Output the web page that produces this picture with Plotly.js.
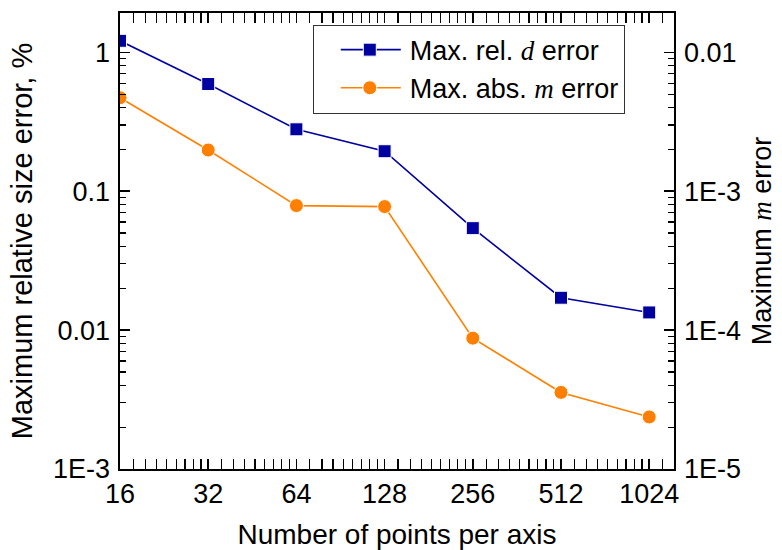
<!DOCTYPE html>
<html>
<head>
<meta charset="utf-8">
<script src="https://cdn.plot.ly/plotly-3.0.1.min.js"></script>
<style>
  html, body { margin: 0; padding: 0; background: #fff; }
  #chart { width: 782px; height: 550px; }
</style>
</head>
<body>
<div id="chart"></div>
<script>
// Grid resolution (points per axis)
const nPoints = [16, 32, 64, 128, 256, 512, 1024];
const xTickLabels = ['16', '32', '64', '128', '256', '512', '1024'];

// Maximum relative size (d) error, in percent (left axis)
const relDErrorPct = [1.21, 0.591, 0.279, 0.194, 0.0542, 0.0171, 0.0134];

// Maximum absolute m error (right axis)
const absMError = [4.71e-3, 1.98e-3, 7.88e-4, 7.75e-4, 8.75e-5, 3.56e-5, 2.37e-5];

// Axis tick labels
const yLeftTickVals = [0.001, 0.01, 0.1, 1];
const yLeftTickText = ['1E-3', '0.01', '0.1', '1'];
const yRightTickVals = [1e-5, 1e-4, 1e-3, 0.01];
const yRightTickText = ['1E-5', '1E-4', '1E-3', '0.01'];

const FONT = 'Liberation Sans, Arial, sans-serif';
const SERIF = 'Liberation Serif';
const BLUE = '#0000A0';
const ORANGE = '#FF8000';

// Minor ticks: x axis splits each octave into 9 equal linear steps,
// y axes use the usual 2..9 per decade.
const xMinor = [];
nPoints.forEach(b => { for (let k = 1; k <= 8; k++) xMinor.push(b * (1 + k / 9)); });
function decadeMinor(e0, e1) {
  const out = [];
  for (let e = e0; e <= e1; e++) for (let d = 2; d <= 9; d++) out.push(d * Math.pow(10, e));
  return out;
}

const traces = [
  {
    x: nPoints, y: relDErrorPct, yaxis: 'y',
    name: 'Max. rel. <i><span style="font-family:' + SERIF + '">d</span></i> error',
    mode: 'lines+markers',
    line: { color: BLUE, width: 1.6 },
    marker: { symbol: 'square', size: 13, color: BLUE, line: { color: '#ffffff', width: 1 } }
  },
  {
    x: nPoints, y: absMError, yaxis: 'y2',
    name: 'Max. abs. <i><span style="font-family:' + SERIF + '">m</span></i> error',
    mode: 'lines+markers',
    line: { color: ORANGE, width: 1.6 },
    marker: { symbol: 'circle', size: 14, color: ORANGE, line: { color: '#ffffff', width: 1 } }
  }
];

const axisCommon = {
  type: 'log',
  showgrid: false,
  zeroline: false,
  showline: true,
  linecolor: '#000',
  linewidth: 1.6,
  ticks: 'inside',
  ticklen: 10,
  tickwidth: 1.6,
  tickcolor: '#000',
  tickfont: { family: FONT, size: 27, color: '#000' },
  automargin: false
};

const layout = {
  width: 782,
  height: 550,
  paper_bgcolor: '#fff',
  plot_bgcolor: '#fff',
  margin: { l: 120, r: 108, t: 13, b: 81 },
  font: { family: FONT, size: 27, color: '#000' },
  showlegend: true,
  legend: {
    x: 0.348, y: 0.877, xanchor: 'left', yanchor: 'middle',
    bgcolor: '#fff', bordercolor: '#333', borderwidth: 1,
    font: { family: FONT, size: 27, color: '#000' },
    itemwidth: 86,
    entrywidth: 320,
    tracegroupgap: 0
  },
  xaxis: Object.assign({}, axisCommon, {
    range: [Math.log10(16), 3.0949],
    tickmode: 'array',
    tickvals: nPoints,
    ticktext: xTickLabels,
    mirror: 'allticks',
    ticklabelstandoff: 0,
    minor: { tickvals: xMinor, ticks: 'inside', ticklen: 5, tickwidth: 1.2, tickcolor: '#000' },
    title: { text: 'Number of points per axis', font: { family: FONT, size: 28 }, standoff: 16 }
  }),
  yaxis: Object.assign({}, axisCommon, {
    range: [-3, 0.283],
    tickmode: 'array',
    tickvals: yLeftTickVals,
    ticktext: yLeftTickText,
    mirror: false,
    ticklabelstandoff: 3,
    minor: { tickvals: decadeMinor(-3, 0), ticks: 'inside', ticklen: 6, tickwidth: 1.2, tickcolor: '#000' },
    title: { text: 'Maximum relative size error, %', font: { family: FONT, size: 29 }, standoff: 12 }
  }),
  yaxis2: Object.assign({}, axisCommon, {
    overlaying: 'y',
    side: 'right',
    range: [-5, -1.717],
    tickmode: 'array',
    tickvals: yRightTickVals,
    ticktext: yRightTickText,
    ticklabelstandoff: 3,
    minor: { tickvals: decadeMinor(-5, -2), ticks: 'inside', ticklen: 6, tickwidth: 1.2, tickcolor: '#000' },
    title: { text: 'Maximum <i><span style="font-family:' + SERIF + '">m</span></i> error', font: { family: FONT, size: 27 }, standoff: 12 }
  })
};

Plotly.newPlot('chart', traces, layout, { displayModeBar: false, staticPlot: true }).then(gd => {
  // Longer legend line samples, with the marker centred on them
  gd.querySelectorAll('.legend .legendlines path').forEach(p => p.setAttribute('d', 'M27,0h60'));
  gd.querySelectorAll('.legend .legendpoints path').forEach(p => {
    const t = p.getAttribute('transform') || '';
    p.setAttribute('transform', t.replace(/translate\(([-\d.]+),\s*([-\d.]+)\)/, (m, a, b) => 'translate(' + (parseFloat(a) + 8) + ',' + b + ')'));
  });
});
</script>
</body>
</html>
